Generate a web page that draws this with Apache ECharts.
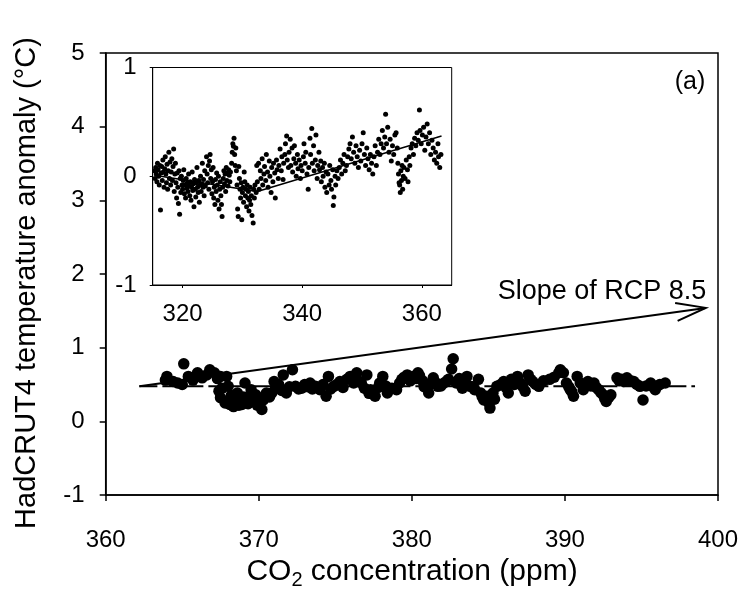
<!DOCTYPE html>
<html><head><meta charset="utf-8">
<script src="https://cdn.jsdelivr.net/npm/echarts@6/dist/echarts.min.js"></script>
<style>html,body{margin:0;padding:0;background:#fff}#c{width:745px;height:599px}</style>
</head><body><div id="c"></div>
<script>
// ---- data ----
const mainXRange = [360, 400];
const mainYRange = [-1, 5];
const insetXRange = [315, 365];
const insetYRange = [-1, 1];
const insetXTicks = [320, 340, 360];
const insetYTicks = [-1, 0, 1];

const mainPoints = [
[363.9,0.56],[364.0,0.61],[364.4,0.54],[364.7,0.52],[365.0,0.50],[365.1,0.78],[365.4,0.61],[365.7,0.56],[366.0,0.66],[366.3,0.59],[366.6,0.63],[366.8,0.70],[367.1,0.66],[367.3,0.58],[367.5,0.61],[367.4,0.41],[367.5,0.32],[367.6,0.45],[367.8,0.25],[367.9,0.61],[368.0,0.475],[368.1,0.23],[368.2,0.35],[368.3,0.28],[368.35,0.20],[368.45,0.29],[368.6,0.385],[368.7,0.22],[368.9,0.23],[369.0,0.33],[369.1,0.52],[369.2,0.29],[369.3,0.24],[369.45,0.35],[369.5,0.43],[369.6,0.30],[369.8,0.36],[369.9,0.22],[370.0,0.27],[370.1,0.31],[370.2,0.16],[370.3,0.29],[370.5,0.385],[370.7,0.33],[370.85,0.385],[371.0,0.54],[371.1,0.45],[371.3,0.50],[371.5,0.42],[371.6,0.63],[371.8,0.385],[372.0,0.47],[372.2,0.70],[372.4,0.475],[372.6,0.44],[372.8,0.45],[373.0,0.50],[373.2,0.47],[373.35,0.52],[373.5,0.44],[373.7,0.475],[373.9,0.46],[374.0,0.43],[374.2,0.50],[374.4,0.34],[374.55,0.61],[374.7,0.44],[374.9,0.475],[375.1,0.50],[375.3,0.54],[375.5,0.46],[375.75,0.57],[375.97,0.61],[376.2,0.52],[376.4,0.66],[376.5,0.55],[376.7,0.52],[376.9,0.45],[377.06,0.63],[377.2,0.38],[377.3,0.43],[377.45,0.37],[377.6,0.34],[377.8,0.46],[377.9,0.52],[378.1,0.61],[378.3,0.48],[378.4,0.385],[378.7,0.45],[379.0,0.43],[379.2,0.52],[379.35,0.57],[379.5,0.60],[379.7,0.63],[379.9,0.55],[380.1,0.61],[380.3,0.58],[380.4,0.66],[380.5,0.62],[380.7,0.55],[380.8,0.47],[381.0,0.475],[381.1,0.385],[381.2,0.50],[381.4,0.59],[381.6,0.52],[381.7,0.475],[381.9,0.48],[382.1,0.52],[382.3,0.55],[382.4,0.57],[382.6,0.71],[382.7,0.85],[382.9,0.52],[383.1,0.58],[383.3,0.45],[383.5,0.50],[383.6,0.61],[383.8,0.475],[384.0,0.47],[384.1,0.43],[384.35,0.57],[384.5,0.385],[384.6,0.33],[384.7,0.29],[384.9,0.34],[385.0,0.26],[385.1,0.18],[385.3,0.385],[385.4,0.30],[385.55,0.475],[385.8,0.50],[386.0,0.54],[386.15,0.46],[386.3,0.385],[386.5,0.57],[386.7,0.50],[386.9,0.61],[387.1,0.52],[387.25,0.47],[387.4,0.41],[387.6,0.63],[387.75,0.57],[387.9,0.54],[388.1,0.50],[388.3,0.475],[388.6,0.55],[389.0,0.57],[389.3,0.60],[389.6,0.66],[389.7,0.70],[389.9,0.66],[390.1,0.52],[390.25,0.47],[390.35,0.43],[390.45,0.40],[390.56,0.34],[390.8,0.61],[391.0,0.52],[391.2,0.43],[391.35,0.50],[391.5,0.54],[391.7,0.48],[391.9,0.52],[392.05,0.46],[392.2,0.43],[392.35,0.39],[392.5,0.36],[392.6,0.31],[392.7,0.27],[392.85,0.32],[393.0,0.36],[393.4,0.59],[393.55,0.55],[393.7,0.57],[393.85,0.54],[394.05,0.59],[394.3,0.55],[394.5,0.54],[394.7,0.50],[394.9,0.475],[395.1,0.29],[395.3,0.48],[395.6,0.52],[395.75,0.47],[395.9,0.43],[396.05,0.48],[396.2,0.50],[396.55,0.52]
];
const mainTrend = [[362.2,0.475],[398.5,0.475]];
const rcpArrow = [[362.2,0.475,399.2,1.54]];

const insetPoints = [
[315.3,0.05],[315.4,-0.02],[315.5,0.08],[315.6,0.02],[315.7,-0.05],[315.8,0.12],[315.9,0.06],[316.0,0.0],[316.1,-0.08],[316.2,0.1],[316.3,-0.31],[316.4,0.03],[316.5,0.09],[316.6,-0.04],[316.7,0.15],[316.8,0.04],[316.9,-0.1],[317.0,0.07],[317.1,0.18],[317.2,0.02],[317.3,-0.06],[317.4,0.11],[317.5,-0.12],[317.6,0.05],[317.7,0.22],[317.8,-0.02],[317.9,0.13],[318.0,-0.08],[318.1,0.04],[318.2,0.16],[318.3,-0.04],[318.4,0.09],[318.5,0.25],[318.6,-0.14],[318.7,0.02],[318.8,0.12],[318.9,-0.06],[319.0,-0.2],[319.1,0.03],[319.2,-0.1],[319.3,-0.25],[319.4,0.05],[319.5,-0.35],[319.6,-0.02],[319.7,-0.15],[319.8,0.0],[319.9,-0.08],
[320.0,-0.12],[320.1,-0.04],[320.2,0.06],[320.3,-0.16],[320.4,-0.08],[320.5,-0.2],[320.6,-0.02],[320.7,-0.11],[320.8,-0.06],[320.9,-0.14],[321.0,0.02],[321.1,-0.09],[321.2,-0.18],[321.3,-0.05],[321.4,-0.22],[321.5,-0.1],[321.6,0.04],[321.7,-0.13],[321.8,-0.07],[321.9,-0.28],[322.0,-0.03],[322.1,-0.12],[322.2,-0.19],[322.3,-0.06],[322.4,0.08],[322.5,-0.1],[322.6,-0.15],[322.7,-0.04],[322.8,-0.24],[322.9,-0.08],[323.0,0.0],[323.1,-0.14],[323.2,-0.07],[323.3,0.12],[323.4,-0.1],[323.5,-0.03],[323.6,-0.18],[323.7,0.05],[323.8,-0.09],[324.0,0.18],[324.1,0.02],[324.2,-0.06],[324.3,0.1],[324.4,-0.12],[324.5,0.14],[324.6,0.2],[324.7,-0.02],[324.8,0.06],[324.9,-0.16],[325.0,-0.05],[325.1,0.08],[325.2,-0.2],[325.3,-0.1],[325.4,-0.26],[325.5,-0.03],[325.6,-0.14],[325.7,0.03],[325.8,-0.08],[325.9,-0.22],[326.0,0.0],
[326.1,-0.3],[326.2,-0.12],[326.3,-0.05],[326.4,-0.18],[326.5,-0.26],[326.6,-0.37],[326.7,-0.1],[326.8,-0.02],[326.9,0.05],[327.0,-0.07],[327.1,0.02],[327.2,-0.14],[327.3,0.08],[327.4,-0.04],[327.5,0.03],[327.6,-0.09],[327.7,0.06],[327.8,0.01],[327.9,-0.05],[328.0,0.04],
[328.2,0.12],[328.3,0.22],[328.4,0.3],[328.5,0.275],[328.6,0.35],[328.7,0.2],[328.8,0.1],[328.9,0.26],[329.0,0.05],
[329.1,-0.08],[329.2,-0.3],[329.3,-0.37],[329.4,0.09],[329.5,-0.02],[329.6,-0.12],[329.7,-0.2],[329.8,-0.06],[329.9,-0.4],[330.0,-0.15],[330.1,-0.1],[330.2,-0.24],[330.3,0.04],[330.4,-0.05],[330.5,-0.18],[330.6,-0.12],[330.7,-0.28],[330.8,-0.08],[330.9,-0.2],[331.0,-0.14],[331.1,-0.32],[331.2,-0.22],[331.3,-0.1],[331.4,-0.26],[331.5,-0.18],[331.6,-0.36],[331.8,-0.43],[331.9,-0.12],[332.0,-0.2],
[332.1,-0.08],[332.3,-0.15],[332.4,0.1],[332.5,-0.05],[332.7,0.12],[332.8,-0.12],[333.0,0.05],[333.1,-0.02],[333.3,0.16],[333.4,-0.08],[333.6,0.02],[333.7,0.09],[333.9,-0.04],[334.0,0.2],[334.2,0.04],[334.3,-0.1],[334.5,0.14],[334.6,0.0],[334.8,-0.15],[334.9,0.08],[335.1,-0.05],[335.2,0.12],[335.4,0.03],[335.5,-0.2],[335.7,0.15],[335.8,0.06],[336.0,-0.02],[336.1,0.1],
[336.3,0.25],[336.5,0.05],[336.6,0.18],[336.8,-0.03],[336.9,0.12],[337.1,0.2],[337.2,0.3],[337.4,0.37],[337.5,0.15],[337.7,0.08],[337.8,0.22],[338.0,0.34],[338.1,0.1],[338.3,0.26],[338.4,0.04],[338.6,0.16],[338.7,0.28],[338.9,0.12],[339.0,0.0],[339.2,0.2],[339.3,0.07],[339.5,0.15],[339.7,-0.02],[339.8,0.1],[340.0,0.05],
[340.2,0.18],[340.3,0.3],[340.5,0.12],[340.6,0.22],[340.8,0.02],[341.0,-0.12],[341.1,0.08],[341.3,0.35],[341.4,0.2],[341.6,0.44],[341.7,0.12],[341.9,0.28],[342.0,0.05],[342.2,0.15],[342.3,0.38],[342.5,-0.02],[342.6,0.1],[342.8,0.22],[342.9,0.06],[343.1,0.14],[343.2,-0.05],[343.4,0.08],[343.5,0.0],[343.7,0.12],[343.8,-0.1],[344.0,0.04],[344.1,-0.15],[344.3,0.02],[344.5,-0.08],[344.6,0.1],[344.8,-0.04],[344.9,-0.12],[345.1,0.06],[345.2,-0.27],[345.3,-0.19],[345.5,0.0],[345.6,-0.08],[345.8,0.05],[346.0,-0.02],
[346.2,0.08],[346.4,0.15],[346.6,0.02],[346.8,0.12],[347.0,0.2],[347.2,0.05],[347.4,0.1],[347.6,0.18],[347.8,0.25],[348.0,0.3],[348.2,0.16],[348.4,0.36],[348.6,0.22],[348.8,0.12],[349.0,0.28],[349.2,0.18],[349.4,0.08],[349.6,0.24],[349.8,0.14],[350.0,0.3],[350.2,0.4],[350.4,0.2],[350.6,0.1],[350.8,0.26],[351.0,0.16],[351.2,0.06],[351.4,0.2],[351.6,0.12],[351.8,0.02],[352.0,0.18],
[352.2,0.28],[352.4,0.1],[352.6,0.22],[352.8,0.34],[353.0,0.2],[353.2,0.3],[353.4,0.42],[353.6,0.26],[353.8,0.36],[353.95,0.57],[354.1,0.3],[354.3,0.45],[354.5,0.22],[354.7,0.34],[354.9,0.14],[355.1,0.28],[355.3,0.2],[355.5,0.38],[355.7,0.4],[355.9,0.26],
[356.0,0.12],[356.1,0.02],[356.2,-0.06],[356.3,-0.08],[356.4,-0.15],[356.5,0.05],[356.6,-0.04],[356.7,0.1],[356.8,-0.12],[356.9,0.0],[357.0,0.08],[357.2,-0.02],[357.4,0.15],[357.6,0.06],[357.7,-0.05],[357.9,0.18],[358.0,0.1],
[358.2,0.26],[358.4,0.3],[358.6,0.2],[358.8,0.35],[359.0,0.28],[359.2,0.4],[359.4,0.33],[359.6,0.61],[359.7,0.42],[359.9,0.3],[360.1,0.38],[360.3,0.45],[360.5,0.24],[360.7,0.36],[360.9,0.48],[361.1,0.3],[361.3,0.4],[361.5,0.2],[361.7,0.33],[361.9,0.26],[362.1,0.15],[362.3,0.22],[362.5,0.12],[362.7,0.3],[362.8,0.18],[363.0,0.08],[363.2,0.2]
];
const insetTrend = [[315.3,0.01],[332.5,-0.14],[363.3,0.37]];

const FONT = "'Liberation Sans', Arial, sans-serif";
const chart = echarts.init(document.getElementById('c'), null, {renderer: 'canvas'});

const axisCommon = {
  type: 'value',
  splitLine: {show: false},
  axisLine: {show: true, onZero: false, lineStyle: {color: '#000', width: 1.5}},
  axisTick: {show: true, inside: false, length: 6, lineStyle: {color: '#000', width: 1.5}},
  axisLabel: {color: '#000', fontSize: 24, fontFamily: FONT}
};
const insetLine = {show: true, onZero: false, lineStyle: {color: '#000', width: 1}};

chart.setOption({
  animation: false,
  backgroundColor: '#fff',
  grid: [
    {left: 105.7, top: 53, width: 612.3, height: 442, show: true, borderColor: '#000', borderWidth: 1.5, backgroundColor: 'transparent'},
    {left: 152.7, top: 67.5, width: 299, height: 217.5, show: true, borderColor: '#000', borderWidth: 1, backgroundColor: '#fff'}
  ],
  xAxis: [
    Object.assign({}, axisCommon, {gridIndex: 0, min: mainXRange[0], max: mainXRange[1], interval: 10,
      axisLabel: Object.assign({}, axisCommon.axisLabel, {margin: 33})}),
    Object.assign({}, axisCommon, {gridIndex: 1, min: insetXRange[0], max: insetXRange[1],
      axisLine: insetLine,
      axisTick: {show: true, length: 3, customValues: insetXTicks, lineStyle: {color: '#000', width: 1}},
      axisLabel: Object.assign({}, axisCommon.axisLabel, {margin: 17, customValues: insetXTicks})})
  ],
  yAxis: [
    Object.assign({}, axisCommon, {gridIndex: 0, min: mainYRange[0], max: mainYRange[1], interval: 1,
      axisLabel: Object.assign({}, axisCommon.axisLabel, {margin: 21})}),
    Object.assign({}, axisCommon, {gridIndex: 1, min: insetYRange[0], max: insetYRange[1],
      axisLine: insetLine,
      axisTick: {show: true, length: 3, customValues: insetYTicks, lineStyle: {color: '#000', width: 1}},
      axisLabel: Object.assign({}, axisCommon.axisLabel, {margin: 16, customValues: insetYTicks})})
  ],
  series: [
    {type: 'line', xAxisIndex: 0, yAxisIndex: 0, data: mainTrend, symbol: 'none', silent: true,
      lineStyle: {color: '#000', width: 2, type: [18, 5]}, z: 1},
    {type: 'scatter', xAxisIndex: 0, yAxisIndex: 0, data: mainPoints, symbol: 'circle', symbolSize: 11.5,
      itemStyle: {color: '#000', opacity: 1}, z: 2},
    {type: 'custom', xAxisIndex: 0, yAxisIndex: 0, data: rcpArrow, z: 3, silent: true,
      renderItem: function (params, api) {
        const p0 = api.coord([api.value(0), api.value(1)]);
        const p1 = api.coord([api.value(2), api.value(3)]);
        const ang = Math.atan2(p0[1] - p1[1], p0[0] - p1[0]);
        const L = 31, a = 17 * Math.PI / 180;
        const h1 = [p1[0] + L * Math.cos(ang + a), p1[1] + L * Math.sin(ang + a)];
        const h2 = [p1[0] + L * Math.cos(ang - a), p1[1] + L * Math.sin(ang - a)];
        return {type: 'group', children: [
          {type: 'line', shape: {x1: p0[0], y1: p0[1], x2: p1[0], y2: p1[1]}, style: {stroke: '#000', lineWidth: 2}},
          {type: 'polyline', shape: {points: [h1, p1, h2]}, style: {stroke: '#000', lineWidth: 2, fill: null}}
        ]};
      }},
    {type: 'scatter', xAxisIndex: 1, yAxisIndex: 1, data: insetPoints, symbol: 'circle', symbolSize: 5,
      itemStyle: {color: '#000', opacity: 1}, z: 5},
    {type: 'line', xAxisIndex: 1, yAxisIndex: 1, data: insetTrend, symbol: 'none', silent: true,
      lineStyle: {color: '#000', width: 1.5}, z: 6}
  ],
  graphic: [
    {type: 'text', x: 27, y: 283, rotation: Math.PI / 2,
      style: {text: 'HadCRUT4 temperature anomaly (°C)', fill: '#000', font: '29px ' + FONT, align: 'center', verticalAlign: 'middle'}},
    {type: 'text', x: 412, y: 572,
      style: {text: 'CO{s|2} concentration (ppm)', fill: '#000', font: '30px ' + FONT, align: 'center', verticalAlign: 'middle',
        rich: {s: {fontSize: 20, fontFamily: FONT, padding: [16, 0, 0, 0]}}}},
    {type: 'text', x: 690, y: 82,
      style: {text: '(a)', fill: '#000', font: '25px ' + FONT, align: 'center', verticalAlign: 'middle'}},
    {type: 'text', x: 602, y: 292,
      style: {text: 'Slope of RCP 8.5', fill: '#000', font: '27px ' + FONT, align: 'center', verticalAlign: 'middle'}}
  ]
});
</script>
</body></html>
